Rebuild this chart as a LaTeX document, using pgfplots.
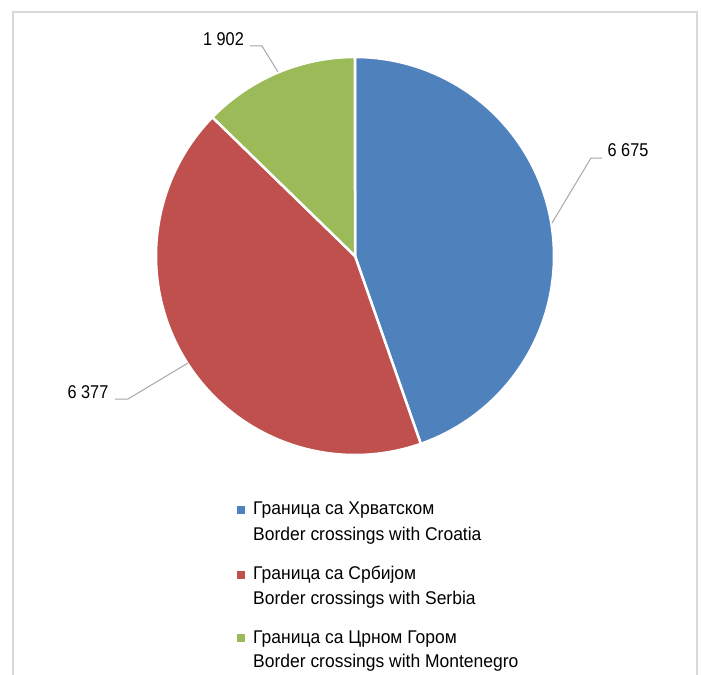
\documentclass[border=0pt]{standalone}
\usepackage{pgfplots}
\pgfplotsset{compat=1.18}
\usepackage{pgfplotstable}
\usepackage{fontspec}
\setmainfont{Liberation Sans}
\newfontfamily\labelfont{Liberation Sans}[FakeStretch=0.88]
\newfontfamily\legendfont{Liberation Sans}[FakeStretch=0.95]
\definecolor{cBlue}{HTML}{4F81BD}
\definecolor{cRed}{HTML}{C0504D}
\definecolor{cGreen}{HTML}{9BBB59}
\definecolor{frameGray}{HTML}{D9D9D9}
\definecolor{leaderGray}{HTML}{A6A6A6}

\pgfplotstableread{
value
6675
6377
1902
}\piedata
\pgfplotstablegetelem{0}{value}\of\piedata \let\va\pgfplotsretval
\pgfplotstablegetelem{1}{value}\of\piedata \let\vb\pgfplotsretval
\pgfplotstablegetelem{2}{value}\of\piedata \let\vc\pgfplotsretval
\pgfmathsetmacro\total{\va+\vb+\vc}
\pgfmathsetmacro\aA{90}
\pgfmathsetmacro\aB{\aA-360*(\va/\total)}
\pgfmathsetmacro\aC{\aB-360*(\vb/\total)}
\pgfmathsetmacro\aD{\aC-360*(\vc/\total)}

\begin{document}%
\begin{tikzpicture}%
\begin{axis}[
  hide axis, scale only axis,
  width=701bp, height=675bp,
  xmin=0, xmax=701, ymin=0, ymax=675,
  y dir=reverse, clip=true,
]
\path (rel axis cs:0,0) rectangle (rel axis cs:1,1);
% frame
\addplot[frameGray, line width=2bp, mark=none] coordinates {(12.5,675) (12.5,12.5) (697,12.5) (697,675)};
% pie slices
\addplot[fill=cBlue, draw=white, line width=2.5bp, domain=\aB:\aA, samples=120, variable=\t, mark=none]
  ({355+199*cos(\t)}, {256-199*sin(\t)}) -- (axis cs:355,256) -- cycle;
\addplot[fill=cRed, draw=white, line width=2.5bp, domain=\aC:\aB, samples=120, variable=\t, mark=none]
  ({355+199*cos(\t)}, {256-199*sin(\t)}) -- (axis cs:355,256) -- cycle;
\addplot[fill=cGreen, draw=white, line width=2.5bp, domain=\aD:\aC, samples=60, variable=\t, mark=none]
  ({355+199*cos(\t)}, {256-199*sin(\t)}) -- (axis cs:355,256) -- cycle;
% leader lines
\addplot[leaderGray, line width=1bp, mark=none] coordinates {(552,223) (591,158) (602,158)};
\addplot[leaderGray, line width=1bp, mark=none] coordinates {(250,46) (262,46) (278,72)};
\addplot[leaderGray, line width=1bp, mark=none] coordinates {(115,399) (128,399) (188,363)};
% data labels
\node[anchor=center, font=\labelfont\fontsize{18.5bp}{22bp}\selectfont] at (axis cs:628,150.5) {6 675};
\node[anchor=center, font=\labelfont\fontsize{18.5bp}{22bp}\selectfont] at (axis cs:223.5,39) {1 902};
\node[anchor=center, font=\labelfont\fontsize{18.5bp}{22bp}\selectfont] at (axis cs:88,392) {6 377};
% legend markers
\addplot[only marks, mark=square*, mark size=3.5, color=cBlue] coordinates {(241,509.5)};
\addplot[only marks, mark=square*, mark size=3.5, color=cRed] coordinates {(241,574.5)};
\addplot[only marks, mark=square*, mark size=3.5, color=cGreen] coordinates {(241,638)};
% legend text
\node[anchor=base west, inner sep=0pt, font=\legendfont\fontsize{18.4bp}{22bp}\selectfont] at (axis cs:253,514) {Граница са Хрватском};
\node[anchor=base west, inner sep=0pt, font=\legendfont\fontsize{18.4bp}{22bp}\selectfont] at (axis cs:253,540) {Border crossings with Croatia};
\node[anchor=base west, inner sep=0pt, font=\legendfont\fontsize{18.4bp}{22bp}\selectfont] at (axis cs:253,579) {Граница са Србијом};
\node[anchor=base west, inner sep=0pt, font=\legendfont\fontsize{18.4bp}{22bp}\selectfont] at (axis cs:253,604.5) {Border crossings with Serbia};
\node[anchor=base west, inner sep=0pt, font=\legendfont\fontsize{18.4bp}{22bp}\selectfont] at (axis cs:253,643) {Граница са Црном Гором};
\node[anchor=base west, inner sep=0pt, font=\legendfont\fontsize{18.4bp}{22bp}\selectfont] at (axis cs:253,667.5) {Border crossings with Montenegro};
\end{axis}
\end{tikzpicture}%
\end{document}
